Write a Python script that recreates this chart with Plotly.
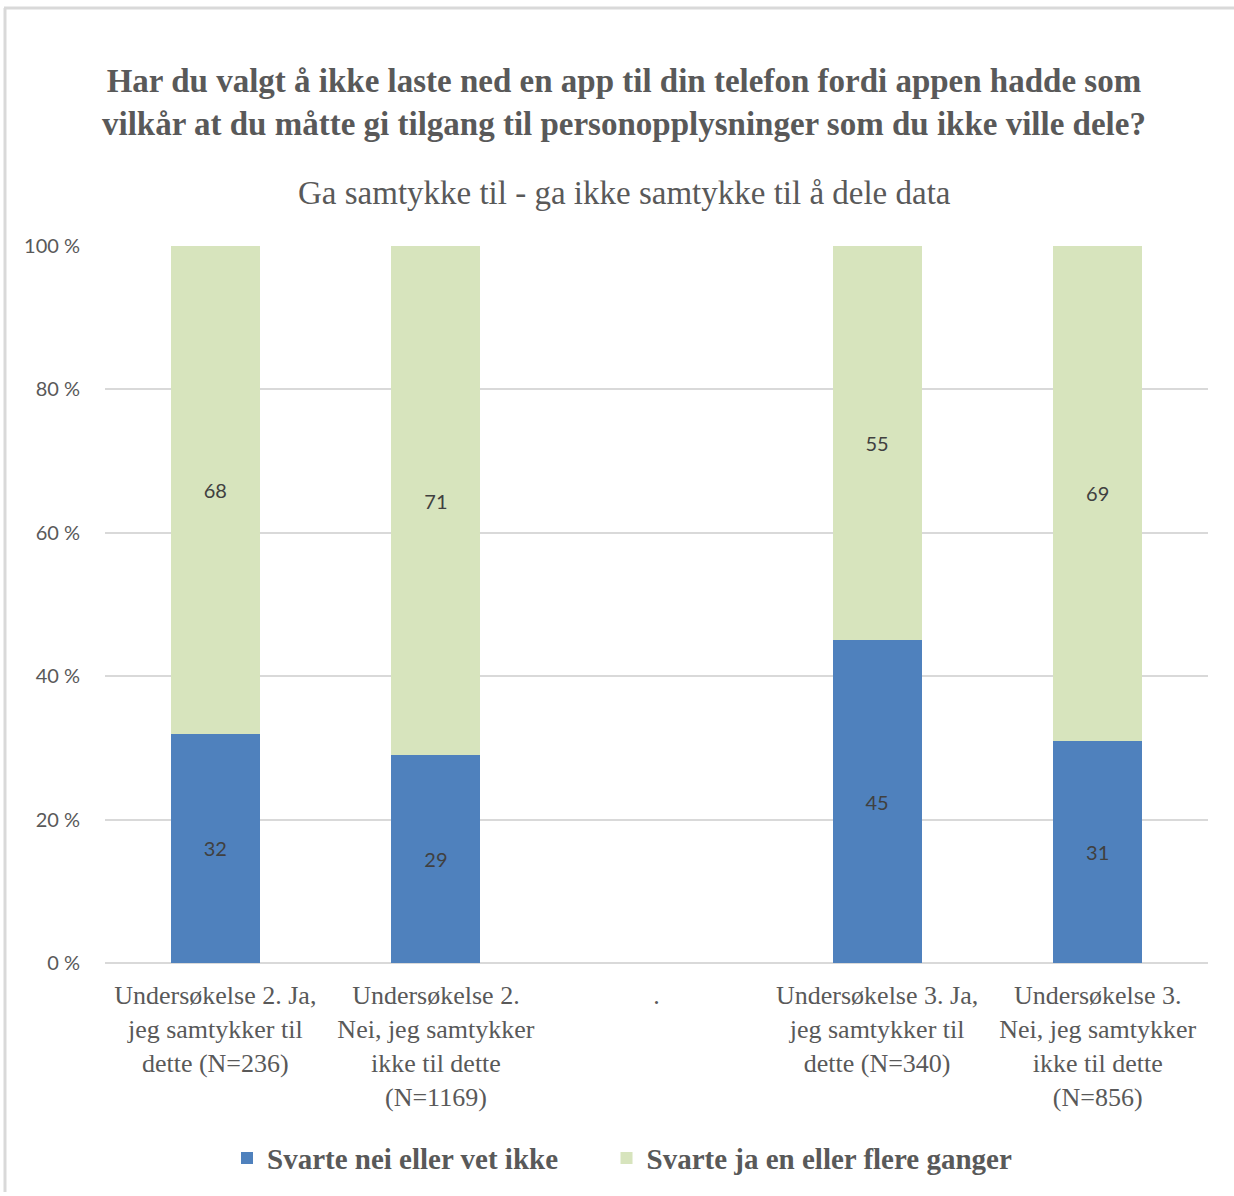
import plotly.graph_objects as go

# data
categories = ["u2ja", "u2nei", ".", "u3ja", "u3nei"]
tick_labels = [
    "Undersøkelse 2. Ja,<br>jeg samtykker til<br>dette (N=236)",
    "Undersøkelse 2.<br>Nei, jeg samtykker<br>ikke til dette<br>(N=1169)",
    ".",
    "Undersøkelse 3. Ja,<br>jeg samtykker til<br>dette (N=340)",
    "Undersøkelse 3.<br>Nei, jeg samtykker<br>ikke til dette<br>(N=856)",
]
svarte_nei = [32, 29, None, 45, 31]
svarte_ja = [68, 71, None, 55, 69]

W, H = 1234, 1196
L, R, T, B = 105, 26, 246, 230
pw, ph = W - L - R, H - T - B


def px(x):
    return (x - L) / pw


def py(y):
    return (H - B - y) / ph


grey = "#595959"
serif = "Liberation Serif, Times New Roman, serif"
sans = "Lato, Open Sans, sans-serif"
pad = "\u00a0" * 6  # extra room between the legend entries

fig = go.Figure()
fig.add_trace(go.Bar(
    x=categories, y=svarte_nei, name="Svarte nei eller vet ikke" + pad,
    marker=dict(color="#4f81bd", line=dict(width=0)),
    text=svarte_nei, textposition="inside", insidetextanchor="middle",
    textfont=dict(family=sans, size=20, color="#404040"),
))
fig.add_trace(go.Bar(
    x=categories, y=svarte_ja, name="Svarte ja en eller flere ganger",
    marker=dict(color="#d7e4bd", line=dict(width=0)),
    text=svarte_ja, textposition="inside", insidetextanchor="middle",
    textfont=dict(family=sans, size=20, color="#404040"),
))

fig.update_layout(
    width=W, height=H,
    margin=dict(l=L, r=R, t=T, b=B),
    barmode="stack", bargap=0.597,
    plot_bgcolor="white", paper_bgcolor="white",
    showlegend=True,
    legend=dict(orientation="h", x=px(622), xanchor="center", y=py(1162), yanchor="middle",
                font=dict(family=serif, size=29, color=grey, weight="bold"),
                itemwidth=30, traceorder="normal"),
    xaxis=dict(tickmode="array", tickvals=categories, ticktext=tick_labels,
               tickfont=dict(family=serif, size=26, color=grey),
               ticks="outside", ticklen=9, tickcolor="rgba(0,0,0,0)",
               showline=False, showgrid=False),
    yaxis=dict(range=[0, 100], dtick=20, ticksuffix=" %",
               tickfont=dict(family=sans, size=20, color=grey),
               gridcolor="#d9d9d9", gridwidth=1.5, zeroline=True,
               zerolinecolor="#d9d9d9", zerolinewidth=1.5,
               ticks="outside", ticklen=20, tickcolor="rgba(0,0,0,0)"),
)

fig.add_annotation(
    x=px(624), xref="paper", y=py(102), yref="paper", xanchor="center", yanchor="middle",
    text="Har du valgt å ikke laste ned en app til din telefon fordi appen hadde som<br>"
         "vilkår at du måtte gi tilgang til personopplysninger som du ikke ville dele?",
    showarrow=False, font=dict(family=serif, size=33, color=grey, weight="bold"),
)
fig.add_annotation(
    x=px(624), xref="paper", y=py(193), yref="paper", xanchor="center", yanchor="middle",
    text="Ga samtykke til - ga ikke samtykke til å dele data",
    showarrow=False, font=dict(family=serif, size=33, color=grey),
)

# light chart border (left and top edges visible)
fig.add_shape(type="line", xref="paper", yref="paper",
              x0=px(5), x1=px(5), y0=py(1196), y1=py(7),
              line=dict(color="#d9d9d9", width=3))
fig.add_shape(type="line", xref="paper", yref="paper",
              x0=px(4), x1=px(1234), y0=py(7), y1=py(7),
              line=dict(color="#d9d9d9", width=3))

fig.write_html("out.html", config={"displayModeBar": False},
               post_script="document.body.style.margin='0';")
